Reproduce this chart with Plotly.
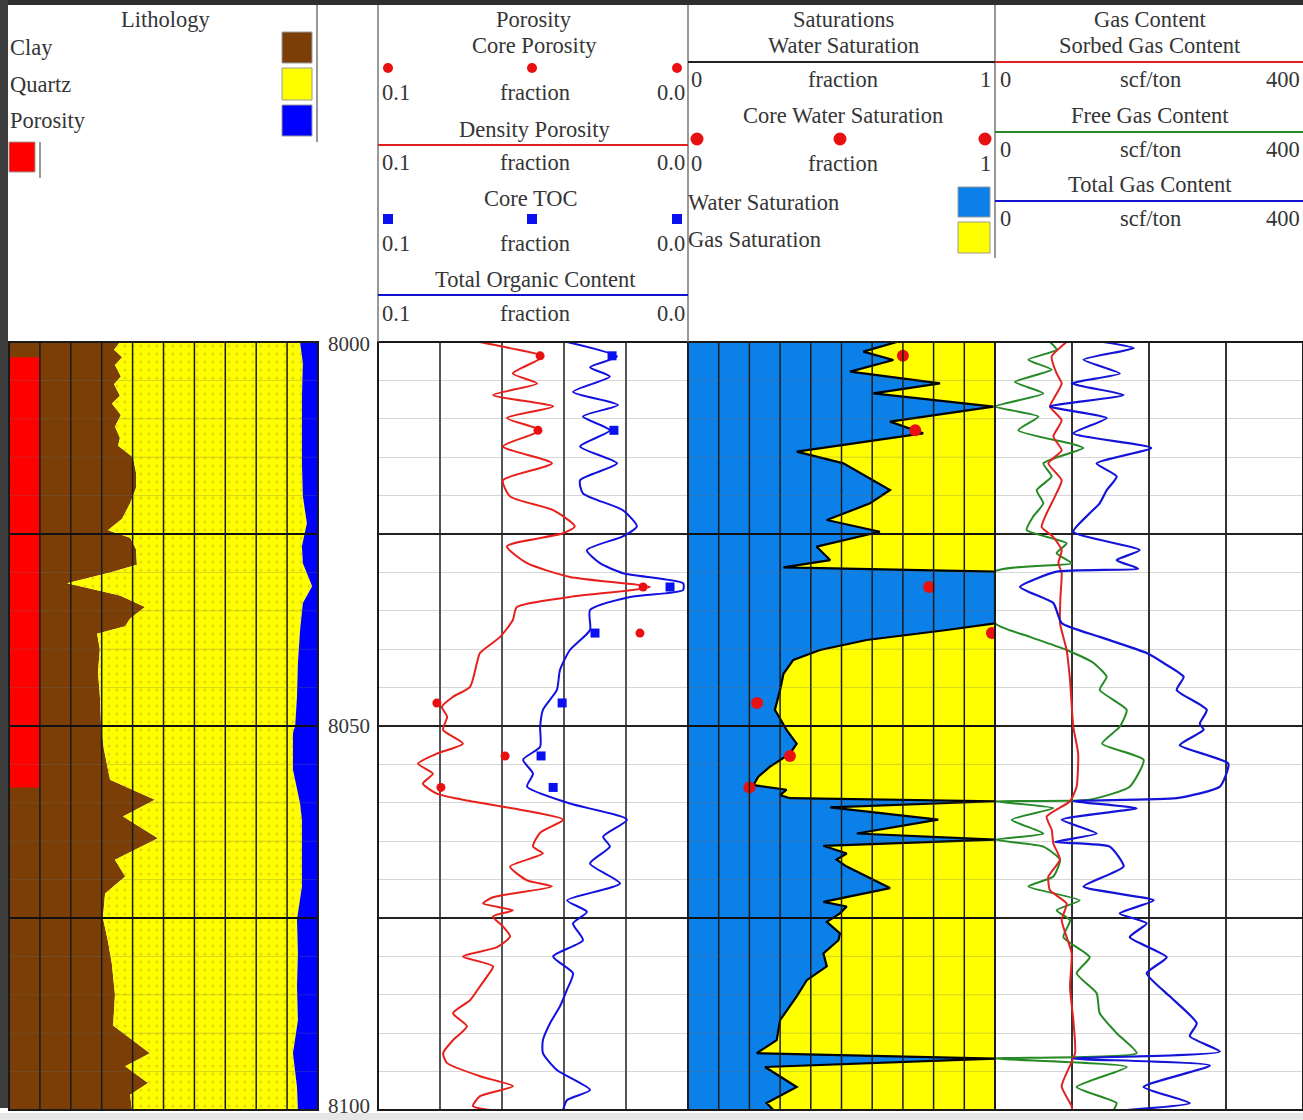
import plotly.graph_objects as go

W, H = 1303, 1120

# ---------------- DATA ----------------
TOP, BASE = 8000, 8100

# Lithology track (fractions of bulk volume)
clay_depth = [8000, 8001, 8002, 8003, 8004.5, 8005.5, 8007, 8008, 8009.5, 8011,
              8012.5, 8013.5, 8015, 8017, 8019, 8021, 8023, 8024.5, 8025.5, 8027,
              8029, 8030, 8031.4, 8033, 8034.5, 8036, 8037, 8038, 8040, 8043,
              8046, 8050, 8053, 8057, 8059.6, 8061.8, 8064.6, 8067.4, 8069.6, 8071.8,
              8075, 8078, 8081, 8085, 8089, 8092.6, 8094.3, 8096.5, 8098, 8100]
clay_frac = [0.359, 0.340, 0.366, 0.343, 0.362, 0.340, 0.359, 0.333, 0.362, 0.343,
             0.359, 0.353, 0.401, 0.411, 0.411, 0.392, 0.366, 0.320, 0.392, 0.411,
             0.414, 0.327, 0.188, 0.359, 0.440, 0.392, 0.376, 0.285, 0.294, 0.288,
             0.294, 0.298, 0.307, 0.327, 0.472, 0.369, 0.482, 0.343, 0.376, 0.311,
             0.304, 0.320, 0.333, 0.343, 0.337, 0.456, 0.376, 0.450, 0.392, 0.398]
phi_depth = [8000, 8002.8, 8007.1, 8011.5, 8015.8, 8020.1, 8023.6, 8026.6, 8028.8, 8031.8,
             8034, 8037.5, 8041.8, 8046.2, 8050, 8050.9, 8055.7, 8060.1, 8062.2, 8066.6,
             8070.9, 8075.2, 8079.6, 8083.9, 8088.3, 8092.6, 8097, 8100]
phi_frac = [0.058, 0.049, 0.052, 0.052, 0.052, 0.049, 0.036, 0.052, 0.049, 0.019,
            0.049, 0.058, 0.065, 0.068, 0.074, 0.081, 0.081, 0.058, 0.052, 0.052,
            0.052, 0.068, 0.065, 0.068, 0.065, 0.081, 0.068, 0.065]
flag_top, flag_base, flag_width = 8002, 8058, 0.1

# Porosity track
dphi_depth = [8000, 8000.8, 8001.9, 8004.1, 8005.4, 8006.9, 8008.4, 8009.9, 8011.5, 8013.6,
              8015.8, 8018, 8020.1, 8021.9, 8024, 8024.9, 8026.6, 8028.8, 8030.6, 8031.9,
              8033.2, 8034.5, 8036.2, 8038.4, 8040.5, 8041.8, 8044.9, 8046.2, 8047.5, 8048.8,
              8050.5, 8052.3, 8053.6, 8054.9, 8056.2, 8057.5, 8058.8, 8059.6, 8060.9, 8062.2,
              8063.9, 8065.7, 8066.6, 8068.3, 8070.1, 8070.9, 8072.3, 8073.1, 8074, 8074.8,
              8076.1, 8077.4, 8078.8, 8080, 8081.3, 8082.6, 8083.9, 8085.7, 8087.4, 8089.1,
              8090.9, 8092.6, 8093.9, 8095.6, 8096.9, 8098.2, 8099.5, 8100]
dphi = [0.0671, 0.0574, 0.0468, 0.0565, 0.0487, 0.0629, 0.0435, 0.0584, 0.0477, 0.0597,
        0.0439, 0.0597, 0.0574, 0.0435, 0.0365, 0.0403, 0.0584, 0.0519, 0.0381, 0.0123,
        0.0381, 0.0552, 0.0565, 0.0606, 0.0671, 0.0681, 0.0703, 0.0758, 0.0794, 0.0777,
        0.0790, 0.0726, 0.0810, 0.0871, 0.0823, 0.0855, 0.0810, 0.0726, 0.0542, 0.0403,
        0.0477, 0.0500, 0.0468, 0.0574, 0.0519, 0.0439, 0.0629, 0.0661, 0.0565, 0.0629,
        0.0597, 0.0574, 0.0616, 0.0726, 0.0629, 0.0648, 0.0671, 0.0703, 0.0758, 0.0713,
        0.0758, 0.0790, 0.0777, 0.0671, 0.0565, 0.0671, 0.0694, 0.0639]
toc_depth = [8000, 8001.9, 8003.3, 8004.5, 8006.5, 8008.2, 8009.7, 8011.5, 8013.6, 8015.8,
             8018, 8019.7, 8021.9, 8024, 8025.3, 8027.1, 8028.8, 8030.1, 8031.4, 8032.3,
             8033.2, 8034.9, 8037.5, 8040.1, 8042.7, 8045.3, 8047.9, 8050.1, 8052.7, 8054.4,
             8056.2, 8057.9, 8060.1, 8062.2, 8064.4, 8065.7, 8067.9, 8070.5, 8072.7, 8074.2,
             8075.7, 8077.9, 8080, 8082.2, 8084.3, 8086.5, 8088.7, 8090.9, 8092.6, 8094.8,
             8097.4, 8098.7, 8100]
toc = [0.0390, 0.0229, 0.0316, 0.0252, 0.0371, 0.0226, 0.0339, 0.0252, 0.0348, 0.0229,
       0.0348, 0.0339, 0.0210, 0.0165, 0.0210, 0.0326, 0.0284, 0.0210, 0.0016, 0.0016,
       0.0187, 0.0316, 0.0316, 0.0381, 0.0413, 0.0423, 0.0468, 0.0477, 0.0477, 0.0532,
       0.0500, 0.0519, 0.0381, 0.0197, 0.0274, 0.0252, 0.0316, 0.0219, 0.0390, 0.0326,
       0.0371, 0.0339, 0.0435, 0.0371, 0.0390, 0.0413, 0.0445, 0.0468, 0.0468, 0.0423,
       0.0316, 0.0390, 0.0403]
core_depth = [8001.8, 8011.5, 8031.9, 8037.9, 8047.0, 8053.9, 8058.0]
core_phi = [0.0477, 0.0484, 0.0145, 0.0155, 0.0810, 0.0590, 0.0797]
core_toc = [0.0245, 0.0239, 0.0058, 0.0300, 0.0406, 0.0474, 0.0435]

# Saturation track
sw_depth = [8000, 8001.26, 8002.34, 8003.86, 8005.38, 8006.68, 8008.42, 8010.37, 8011.89, 8014.28,
            8015.8, 8017.53, 8019.27, 8021.01, 8023.18, 8024.7, 8026.65, 8028.39, 8029.34, 8029.9,
            8036.63, 8037.5, 8038.8, 8040.1, 8041.4, 8043.2, 8045.3, 8047.9, 8050.5, 8052.3,
            8053.6, 8055.3, 8056.6, 8057.7, 8058.3, 8059.0, 8059.4, 8059.8, 8060.6, 8062.2,
            8064.0, 8064.8, 8065.6, 8066.6, 8067.4, 8068.3, 8069.6, 8071.1, 8072.9, 8073.5,
            8074.4, 8075.5, 8077.0, 8077.9, 8079.6, 8081.3, 8083.1, 8085.2, 8088.3, 8090.9,
            8092.6, 8093.3, 8094.4, 8097.0, 8099.1, 8100]
sw = [0.680, 0.571, 0.669, 0.528, 0.821, 0.604, 0.995, 0.658, 0.766, 0.354,
      0.506, 0.582, 0.658, 0.593, 0.452, 0.625, 0.419, 0.463, 0.311, 1.0,
      1.0, 0.843, 0.582, 0.430, 0.343, 0.311, 0.300, 0.283, 0.321, 0.354,
      0.332, 0.267, 0.229, 0.213, 0.321, 0.300, 0.332, 1.0, 0.463, 0.815,
      0.550, 1.0, 0.441, 0.517, 0.484, 0.517, 0.582, 0.658, 0.441, 0.517,
      0.495, 0.452, 0.495, 0.490, 0.441, 0.452, 0.387, 0.354, 0.300, 0.289,
      0.224, 1.0, 0.251, 0.354, 0.256, 0.278]
core_sw = [0.70, 0.74, 0.785, 0.99, 0.225, 0.332, 0.20]

# Gas content track (scf/ton)
sorb_depth = [8000, 8001.9, 8004.1, 8005.4, 8007.1, 8008.4, 8010.2, 8012.3, 8014.1, 8015.8,
              8018, 8020.1, 8022.3, 8024.1, 8025.4, 8027.1, 8028.8, 8030.1, 8033.2, 8036.6,
              8040.1, 8044, 8050.1, 8053.6, 8057.9, 8059.8, 8061.8, 8063.5, 8065.3, 8067.4,
              8069.6, 8071.4, 8073.1, 8075.3, 8079.6, 8084, 8088.3, 8092.6, 8096.9, 8099.5, 8100]
sorbed = [93, 73.6, 80, 86.6, 77.9, 71.4, 86.6, 75.8, 86.6, 69.3,
          86.6, 77.9, 67.1, 60.6, 75.8, 86.6, 82.3, 86.6, 85, 84.4,
          93, 97.4, 101.7, 108, 106, 97.4, 67, 73.6, 75.8, 84.4,
          69.3, 71.4, 93, 86.6, 99.6, 97.4, 101.7, 104, 86.6, 99.6, 100]
free_depth = [8000, 8001, 8002.3, 8003.6, 8005.2, 8006.7, 8008.4, 8009.7, 8011.5, 8013.2,
              8013.8, 8015.8, 8017.5, 8019.3, 8021, 8022.7, 8024.5, 8026.2, 8027.5, 8028.8,
              8029.9, 8036.6, 8038.4, 8040.1, 8041.8, 8043.6, 8045.3, 8047.9, 8050.1, 8052.3,
              8054.4, 8057.9, 8059.6, 8059.8, 8060.7, 8062.2, 8064, 8064.8, 8065.7, 8067.4,
              8069.6, 8070.9, 8072.7, 8074, 8075.3, 8077.5, 8080.1, 8082.2, 8084.8, 8087.4,
              8090, 8092.6, 8093.3, 8094.4, 8097, 8099.1, 8100]
free = [71.4, 80, 43.3, 73.6, 26, 62.8, 0, 56.3, 30.3, 97.4,
        114.7, 62.8, 73.6, 54.1, 62.8, 49.8, 41.1, 93, 80, 99.6,
        0, 0, 45.5, 93, 128, 145, 136, 171, 162, 139,
        193, 175, 123, 0, 75.8, 21.6, 62.8, 0, 62.8, 84.4,
        75.8, 43.3, 110, 80, 97.4, 88.8, 123, 106, 132, 136,
        158, 184, 0, 171, 106, 158, 154]
total_depth = [8000, 8000.8, 8002.3, 8004.1, 8005.4, 8006.9, 8008.4, 8009.9, 8011.9, 8013.8,
               8015.8, 8017.5, 8019.3, 8021, 8022.3, 8024.7, 8027.1, 8028.4, 8029.5, 8029.9,
               8031.9, 8034, 8036.6, 8038.4, 8040.5, 8041.8, 8043.6, 8045.3, 8047.9, 8049.7,
               8050.5, 8052.5, 8054.9, 8057.9, 8059.4, 8059.8, 8060.7, 8062.2, 8064, 8065.1,
               8065.7, 8068.3, 8070.9, 8072.7, 8074.4, 8075.7, 8077.5, 8080.1, 8082.2, 8085.2,
               8088.7, 8090.4, 8092.4, 8093.3, 8094.2, 8097, 8099.1, 8100]
total = [140.7, 180, 115, 162, 99.6, 167, 71.4, 145, 101.7, 203,
         132, 158, 145, 136, 123, 101.7, 188, 158, 186, 80,
         32.5, 75.8, 86.6, 136, 197, 219, 245, 236, 275, 266,
         271, 240, 303, 292, 236, 101.7, 184, 86.6, 132, 77.9,
         149, 167, 115, 206, 162, 197, 175, 223, 197, 227,
         262, 253, 292, 101.7, 279, 193, 253, 171]

depth_labels = [8000, 8050, 8100]

# ---------------- STYLE ----------------
FONT = "Liberation Serif, Times New Roman, serif"
FS = 22.5
TXT = "#353535"
BROWN = "#7a3e06"
YELLOW = "#ffff00"
BLUE = "#0000ff"
RED = "#ff0000"
WBLUE = "#0b80e8"


def px(x):
    return x / W


def py(y):
    return 1 - y / H


LITH = [px(9), px(318)]
POR = [px(378), px(688)]
SAT = [px(688), px(995)]
GAS = [px(995), 1.0]
YDOM = [py(1110), py(342)]

fig = go.Figure()

# ---- Lithology ----
fig.add_trace(go.Scatter(x=[0, 0], y=[TOP, BASE], mode="lines", line=dict(width=0),
                         xaxis="x", yaxis="y", hoverinfo="skip"))
fig.add_trace(go.Scatter(x=clay_frac, y=clay_depth, mode="lines", line=dict(width=0),
                         fill="tonextx", fillcolor=BROWN, xaxis="x", yaxis="y"))
fig.add_trace(go.Scatter(x=[1 - p for p in phi_frac], y=phi_depth, mode="lines",
                         line=dict(width=0), fill="tonextx", fillcolor=YELLOW,
                         fillpattern=dict(shape=".", fgcolor="#c9b800", bgcolor=YELLOW,
                                          size=8, solidity=0.12),
                         xaxis="x", yaxis="y"))
fig.add_trace(go.Scatter(x=[1, 1], y=[TOP, BASE], mode="lines", line=dict(width=0),
                         fill="tonextx", fillcolor=BLUE, xaxis="x", yaxis="y"))
fig.add_trace(go.Scatter(x=[0, flag_width, flag_width, 0, 0],
                         y=[flag_top, flag_top, flag_base, flag_base, flag_top],
                         mode="lines", line=dict(width=0), fill="toself", fillcolor=RED,
                         xaxis="x", yaxis="y"))

# ---- Porosity ----
fig.add_trace(go.Scatter(x=dphi, y=dphi_depth, mode="lines",
                         line=dict(color="#e8201c", width=2, shape="spline", smoothing=0.6),
                         xaxis="x2", yaxis="y"))
fig.add_trace(go.Scatter(x=toc, y=toc_depth, mode="lines",
                         line=dict(color="#1010e0", width=2, shape="spline", smoothing=0.6),
                         xaxis="x2", yaxis="y"))
fig.add_trace(go.Scatter(x=core_phi, y=core_depth, mode="markers",
                         marker=dict(color="#e81010", size=9, symbol="circle"),
                         xaxis="x2", yaxis="y"))
fig.add_trace(go.Scatter(x=core_toc, y=core_depth, mode="markers",
                         marker=dict(color="#0a10f0", size=9, symbol="square"),
                         xaxis="x2", yaxis="y"))

# ---- Saturations ----
fig.add_trace(go.Scatter(x=[0, 0], y=[TOP, BASE], mode="lines", line=dict(width=0),
                         xaxis="x3", yaxis="y"))
fig.add_trace(go.Scatter(x=sw, y=sw_depth, mode="lines", line=dict(width=0),
                         fill="tonextx", fillcolor=WBLUE, xaxis="x3", yaxis="y"))
fig.add_trace(go.Scatter(x=[1, 1], y=[TOP, BASE], mode="lines", line=dict(width=0),
                         fill="tonextx", fillcolor=YELLOW, xaxis="x3", yaxis="y"))
fig.add_trace(go.Scatter(x=sw, y=sw_depth, mode="lines", line=dict(color="black", width=2.2),
                         xaxis="x3", yaxis="y"))
fig.add_trace(go.Scatter(x=core_sw, y=core_depth, mode="markers",
                         marker=dict(color="#e81010", size=12),
                         xaxis="x3", yaxis="y"))

# ---- Gas content ----
fig.add_trace(go.Scatter(x=free, y=free_depth, mode="lines",
                         line=dict(color="#258a25", width=2, shape="spline", smoothing=0.5),
                         xaxis="x4", yaxis="y"))
fig.add_trace(go.Scatter(x=sorbed, y=sorb_depth, mode="lines",
                         line=dict(color="#e02222", width=2, shape="spline", smoothing=0.5),
                         xaxis="x4", yaxis="y"))
fig.add_trace(go.Scatter(x=total, y=total_depth, mode="lines",
                         line=dict(color="#1414d8", width=2.2, shape="spline", smoothing=0.5),
                         xaxis="x4", yaxis="y"))

# ---------------- AXES ----------------
hidden = dict(showticklabels=False, ticks="", zeroline=False, showline=False, fixedrange=True)
fig.update_layout(
    xaxis=dict(domain=LITH, range=[0, 1], anchor="y", showgrid=False, **hidden),
    xaxis2=dict(domain=POR, range=[0.1, 0.0], anchor="y", showgrid=True, dtick=0.02, tick0=0,
                gridcolor="#555555", gridwidth=2, **hidden),
    xaxis3=dict(domain=SAT, range=[0, 1], anchor="y", showgrid=False, **hidden),
    xaxis4=dict(domain=GAS, range=[0, 400], anchor="y", showgrid=True, dtick=100, tick0=0,
                gridcolor="#333333", gridwidth=2, **hidden),
    yaxis=dict(domain=YDOM, range=[BASE, TOP], anchor="x", showgrid=True, dtick=25, tick0=TOP,
               gridcolor="#222222", gridwidth=2,
               minor=dict(dtick=5, tick0=TOP, showgrid=True, gridcolor="#d6d6d6", gridwidth=1),
               **hidden),
)

shapes = []
# grid lines drawn over the filled tracks
for xa in ["x", "x3"]:
    for i in range(1, 10):
        shapes.append(dict(type="line", xref=xa, yref="y domain", x0=i / 10, x1=i / 10,
                           y0=0, y1=1, line=dict(color="#1a1a1a", width=1.5), layer="above"))
    for d in range(TOP + 5, BASE, 5):
        major = (d - TOP) % 25 == 0
        shapes.append(dict(type="line", xref=xa + " domain", yref="y", x0=0, x1=1, y0=d, y1=d,
                           line=dict(color="#111111" if major else "rgba(110,110,110,0.30)",
                                     width=2 if major else 1), layer="above"))

# track frames
for dom in [LITH, POR, SAT, GAS]:
    shapes.append(dict(type="rect", xref="paper", yref="paper", x0=dom[0], x1=dom[1],
                       y0=YDOM[0], y1=YDOM[1], line=dict(color="#1a1a1a", width=2), layer="above"))

# dark page border
shapes.append(dict(type="rect", xref="paper", yref="paper", x0=0, x1=1, y0=py(5), y1=1,
                   fillcolor="#2e2e2e", line=dict(width=0), layer="above"))
shapes.append(dict(type="rect", xref="paper", yref="paper", x0=0, x1=px(8), y0=py(1108), y1=1,
                   fillcolor="#3d3d3d", line=dict(width=0), layer="above"))
shapes.append(dict(type="rect", xref="paper", yref="paper", x0=0, x1=1, y0=0, y1=py(1113),
                   fillcolor="#e6e6e6", line=dict(width=0), layer="below"))


def hline(x0, x1, y, color, width=2):
    shapes.append(dict(type="line", xref="paper", yref="paper", x0=px(x0), x1=px(x1),
                       y0=py(y), y1=py(y), line=dict(color=color, width=width)))


def vline(x, y0, y1, color="#777777", width=1.5):
    shapes.append(dict(type="line", xref="paper", yref="paper", x0=px(x), x1=px(x),
                       y0=py(y0), y1=py(y1), line=dict(color=color, width=width)))


def box(x0, y0, x1, y1, color):
    shapes.append(dict(type="rect", xref="paper", yref="paper", x0=px(x0), x1=px(x1),
                       y0=py(y1), y1=py(y0), fillcolor=color,
                       line=dict(color="#9a9a9a", width=1)))


def dot(x, y, r, color, kind="circle"):
    shapes.append(dict(type=kind, xref="paper", yref="paper", x0=px(x - r), x1=px(x + r),
                       y0=py(y + r), y1=py(y - r), fillcolor=color, line=dict(width=0)))


# header frame lines
vline(317, 5, 142)
vline(40, 142, 178)
vline(378, 5, 342)
vline(688, 5, 342)
vline(995, 5, 258)

# header legend keys
box(282, 32, 312, 63, BROWN)
box(282, 68, 312, 100, YELLOW)
box(282, 105, 312, 136, BLUE)
box(9, 142, 35, 172, RED)
box(958, 187, 990, 217, WBLUE)
box(958, 222, 990, 253, YELLOW)

hline(378, 688, 145, "#e02020")
hline(378, 688, 295, "#1010d0")
hline(688, 995, 62, "#222222")
hline(995, 1303, 62, "#e02020")
hline(995, 1303, 132, "#258a25")
hline(995, 1303, 201, "#1414d0")

for xx in [388, 532, 677]:
    dot(xx, 68, 5, "#e81010")
    dot(xx, 219, 5, "#0a10f0", "rect")
for xx in [697, 840, 985]:
    dot(xx, 139, 6.5, "#e81010")

annotations = []


def txt(x, y, s, anchor="center", size=FS):
    annotations.append(dict(x=px(x), y=py(y), xref="paper", yref="paper", text=s,
                            showarrow=False, xanchor=anchor, yanchor="middle",
                            font=dict(family=FONT, size=size, color=TXT)))


def scale_row(y, x0, xc, x1, lo, unit, hi):
    txt(x0, y, lo, "left")
    txt(xc, y, unit, "center")
    txt(x1, y, hi, "right")


txt(165, 19, "Lithology")
txt(8, 48, "Clay", "left")
txt(8, 85, "Quartz", "left")
txt(8, 121, "Porosity", "left")

txt(534, 19, "Porosity")
txt(534, 46, "Core Porosity")
scale_row(92, 380, 535, 687, "0.1", "fraction", "0.0")
txt(534, 129, "Density Porosity")
scale_row(162, 380, 535, 687, "0.1", "fraction", "0.0")
txt(531, 198, "Core TOC")
scale_row(243, 380, 535, 687, "0.1", "fraction", "0.0")
txt(535, 279, "Total Organic Content")
scale_row(313, 380, 535, 687, "0.1", "fraction", "0.0")

txt(843, 19, "Saturations")
txt(843, 46, "Water Saturation")
scale_row(80, 689, 843, 993, "0", "fraction", "1")
txt(843, 116, "Core Water Saturation")
scale_row(163, 689, 843, 993, "0", "fraction", "1")
txt(686, 202, "Water Saturation", "left")
txt(686, 239, "Gas Saturation", "left")

txt(1150, 19, "Gas Content")
txt(1150, 46, "Sorbed Gas Content")
scale_row(80, 998, 1150, 1302, "0", "scf/ton", "400")
txt(1150, 116, "Free Gas Content")
scale_row(150, 998, 1150, 1302, "0", "scf/ton", "400")
txt(1150, 185, "Total Gas Content")
scale_row(219, 998, 1150, 1302, "0", "scf/ton", "400")

for d in depth_labels:
    annotations.append(dict(x=px(349), y=d, xref="paper", yref="y", text=str(d),
                            showarrow=False, xanchor="center", yanchor="middle",
                            yshift=-2 if d == TOP else (4 if d == BASE else 0),
                            font=dict(family=FONT, size=21, color=TXT)))

fig.update_layout(
    width=W, height=H, margin=dict(l=0, r=0, t=0, b=0),
    paper_bgcolor="white", plot_bgcolor="white", showlegend=False,
    shapes=shapes, annotations=annotations,
)

fig.write_html("out.html", config={"displayModeBar": False},
               post_script="document.body.style.margin='0';document.body.style.padding='0';")
